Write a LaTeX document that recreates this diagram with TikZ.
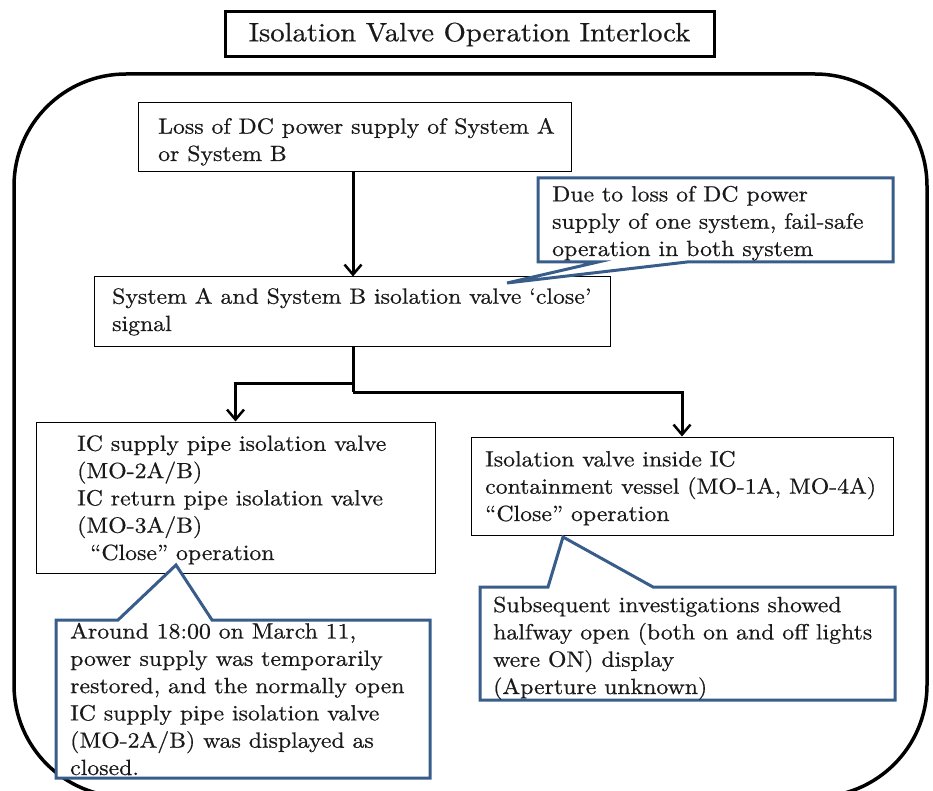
\documentclass[tikz,border=0pt]{standalone}
\usepackage{fontspec}
\setmainfont{lmroman10-regular.otf}[FakeStretch=1.08,FakeBold=0.6]
\usetikzlibrary{arrows.meta}
\definecolor{calloutblue}{RGB}{56,93,138}
\begin{document}
\begin{tikzpicture}[x=1pt,y=-1pt,
  box/.style={draw=black, line width=1pt, rectangle, inner sep=0pt, fill=white},
  txt/.style={anchor=base west, inner sep=0pt, align=left, font=\fontsize{22}{27.3}\selectfont, text=black!90},
  arr/.style={line width=3pt, -{Straight Barb[length=10pt,width=17pt,line width=2.5pt]}},
  link/.style={line width=3pt},
  callout/.style={draw=calloutblue, line width=3pt, fill=white, line join=miter},
]
\clip (0,0) rectangle (933,791);
% outer frame
\draw[line width=3.5pt, rounded corners=112pt] (14,74) rectangle (927,797);
% title
\node[draw, line width=3pt, minimum width=489pt, minimum height=45pt, inner sep=0pt,
      font=\fontsize{26.5}{30}\selectfont, text=black!90] (title) at (469.5,34.5) {Isolation Valve Operation Interlock};
% boxes
\node[box, minimum width=433pt, minimum height=69pt] (b1) at (354.5,137.5) {};
\node[box, minimum width=516pt, minimum height=69pt] (b2) at (352,311.5) {};
\node[box, minimum width=399pt, minimum height=151pt] (b3) at (235.5,497.5) {};
\node[box, minimum width=422pt, minimum height=98pt] (b4) at (682,486) {};
% callouts
\coordinate (tip1) at (507,283);
\draw[callout] (538,178) -- (893,178) -- (893,262) -- (687,262) -- (tip1) -- (598,262) -- (538,262) -- cycle;
\coordinate (tip2) at (176,565);
\draw[callout] (56,620) -- (118,620) -- (tip2) -- (212,620) -- (430,620) -- (430,778) -- (56,778) -- cycle;
\coordinate (tip3) at (563,537);
\draw[callout] (480,587) -- (548,587) -- (tip3) -- (653,587) -- (895,587) -- (895,700) -- (480,700) -- cycle;
% texts (anchor = baseline of the last line)
\node[txt] (t1) at (158,161) {Loss of DC power supply of System A\\or System B};
\node[txt] (t2) at (112,331) {System A and System B isolation valve ‘close’\\signal};
\node[txt] (t3) at (77,560) {IC supply pipe isolation valve\\(MO-2A/B)\\IC return pipe isolation valve\\(MO-3A/B)\\\hspace*{13pt}“Close” operation};
\node[txt] (t4) at (485,521) {Isolation valve inside IC\\containment vessel (MO-1A, MO-4A)\\“Close” operation};
\node[txt] (c1) at (552,256) {Due to loss of DC power\\supply of one system, fail-safe\\operation in both system};
\node[txt] (c2) at (70,775) {Around 18:00 on March 11,\\power supply was temporarily\\restored, and the normally open\\IC supply pipe isolation valve\\(MO-2A/B) was displayed as\\closed.};
\node[txt] (c3) at (493,694) {Subsequent investigations showed\\halfway open (both on and off lights\\were ON) display\\(Aperture unknown)};
% connectors
\coordinate (j1) at (353,383);
\coordinate (j2) at (353,392);
\draw[arr] (b1.south -| j1) -- (b2.north -| j1);
\draw[link] (b2.south -| j1) -- (j2);
\draw[arr] (j1) -| (b3.north);
\draw[arr] (j2) -| (b4.north);
\end{tikzpicture}
\end{document}
